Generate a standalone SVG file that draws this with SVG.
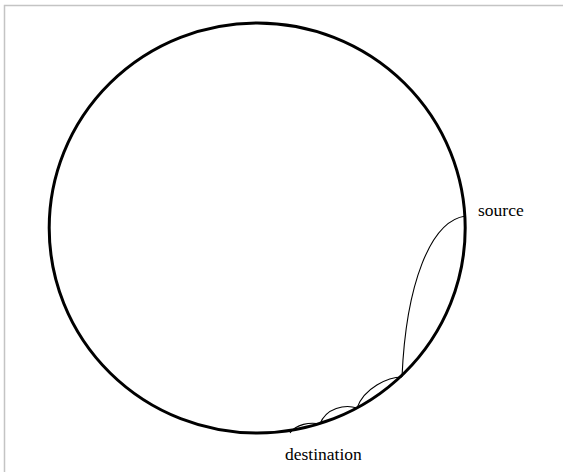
<svg xmlns="http://www.w3.org/2000/svg" width="563" height="472" viewBox="0 0 563 472">
<style>
.frame{stroke:#c4c4c4;stroke-width:1.5;fill:none}
.disk{stroke:#000;stroke-width:3;fill:none}
.edge{stroke:#000;stroke-width:1.1;fill:none}
.lbl{font-family:"Liberation Serif","Times New Roman",serif;font-size:17.5px;fill:#000}
</style>
<rect x="0" y="0" width="563" height="472" fill="#fff"/>
<path class="frame" d="M4.5,472 V5.5 H563"/>
<g id="disk"><ellipse class="disk" cx="257.2" cy="228" rx="208" ry="205"/></g>
<g id="connectors">
<path class="edge" d="M465.5,216 C430,221 406,285 402,377"/>
<path class="edge" d="M402,377 C388,377 364,388 357,408"/>
<path class="edge" d="M357,408 C345,404 326,408 320,424"/>
<path class="edge" d="M320,424 C310,422 296,424 290,433"/>
</g>
<g id="source"><text class="lbl" x="478" y="216">source</text></g>
<g id="destination"><text class="lbl" x="285" y="460">destination</text></g>
</svg>
